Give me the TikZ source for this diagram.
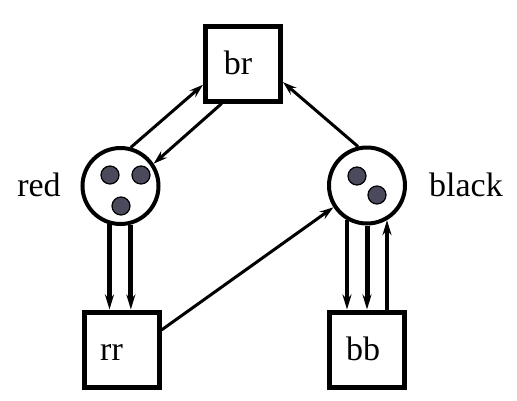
\documentclass[tikz,border=0pt]{standalone}
\usepackage{fontspec}
\setmainfont{Liberation Serif}
\usetikzlibrary{arrows.meta}
\definecolor{dotc}{RGB}{74,74,92}
\begin{document}
\begin{tikzpicture}[x=1pt,y=-1pt,
  box/.style={draw,line width=5pt,minimum size=75pt,inner sep=0pt,text height=22pt,text depth=0pt,font=\fontsize{34}{40}\selectfont},
  state/.style={circle,draw,line width=4pt,minimum size=76pt,inner sep=0pt},
  dot/.style={circle,draw,line width=1.2pt,fill=dotc,minimum size=18pt,inner sep=0pt},
  lbl/.style={font=\fontsize{34}{40}\selectfont},
  arr/.style={line width=3pt,-{Stealth[length=14pt,width=9pt,inset=5pt]}},
  tarr/.style={line width=5pt,-{Stealth[length=15pt,width=9pt,inset=5pt]}},
  marr/.style={line width=4pt,-{Stealth[length=15pt,width=9pt,inset=5pt]}}]
\useasboundingbox[fill=white] (0,0) rectangle (517,400);
% nodes
\node[box] (br) at (243,63.5) {br\hspace*{10pt}};
\node[state] (red) at (120.5,186) {};
\node[state] (black) at (367,185.5) {};
\node[box] (rr) at (121.5,349.5) {rr\hspace*{20pt}};
\node[box] (bb) at (366.5,349.5) {bb\hspace*{7pt}};
\node[lbl] (redl) at (39,185) {red};
\node[lbl] (blackl) at (466,185) {black};
% dots
\node[dot] (r1) at (110,175) {};
\node[dot] (r2) at (141,175) {};
\node[dot] (r3) at (121,206) {};
\node[dot] (b1) at (357,176) {};
\node[dot] (b2) at (377,195) {};
% connectors
\draw[arr] (red.75.6) -- (br.208.6);
\draw[arr] (br.242.6) -- (red.34.8);
\draw[arr] (black.103) -- (br.335);
\draw[arr] (rr.26.8) -- (black.213.5);
\draw[tarr] (red.254.8) -- (red.254.8 |- rr.north);
\draw[tarr] (red.285.2) -- (red.285.2 |- rr.north);
\draw[marr] (black.240) -- (black.240 |- bb.north);
\draw[tarr] (black.270) -- (black.270 |- bb.north);
\draw[marr] (black.300 |- bb.north) -- (black.300);
\end{tikzpicture}
\end{document}
